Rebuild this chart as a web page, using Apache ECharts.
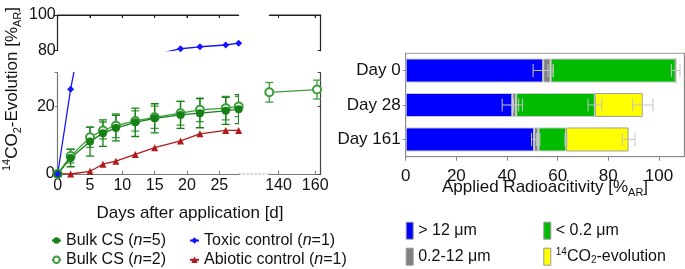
<!DOCTYPE html>
<html><head><meta charset="utf-8">
<script src="https://cdn.jsdelivr.net/npm/echarts@6/dist/echarts.min.js"></script>
<style>html,body{margin:0;padding:0;background:#fff}#c{width:685px;height:269px}</style>
</head><body><div id="c"></div>
<script>
// ---- Left panel data ----
const days = [0, 2, 5, 7, 9, 12, 15, 19, 22, 26, 28];
const bulk5 = [0, 4.75, 9.6, 12.1, 13.6, 15.3, 16.5, 17.5, 18.0, 18.7, 19.2];
const bulk5Err = [0, 2.6, 4.3, 3.9, 3.8, 4.2, 4.3, 4.0, 4.3, 4.0, 4.3];
const bulk2 = [0, 5.3, 10.9, 12.9, 14.3, 15.7, 16.8, 18.0, 19.0, 19.5, 20.0];
const bulk2Err = [0, 2.0, 3.0, 2.5, 3.5, 3.0, 3.3, 3.5, 3.5, 3.5, 3.0];
const lateDays = [135, 161];
const bulk2Late = [24.2, 25.0];
const bulk2LateErr = [2.9, 2.8];
const toxic = [0, 25.1, 55, 65, 71, 75.5, 77.8, 81.1, 82.2, 83.2, 84.2];
const abiotic = [0, 0, 0.8, 2.9, 3.8, 5.8, 7.8, 9.8, 11.9, 12.9, 12.9];
const xTicksLeft = [0, 5, 10, 15, 20, 25];
const xTicksRight = [140, 160];
const yTicksLower = [0, 20];
const yTicksLowerAll = [0, 20, 30];
const yTicksUpper = [80, 100];

// ---- Right panel data ----
const cats = ['Day 0', 'Day 28', 'Day 161'];
const gt12 = [54.3, 42.1, 50.7];
const mid = [2.9, 1.5, 1.7];
const lt02 = [49.4, 31.1, 10.9];
const co2 = [0, 18.9, 24.7];
const gt12Err = [4, 4, 1];
const midErr = [1, 1, 0.6];
const lt02Err = [1.7, 2.7, 0.4];
const co2Err = [0, 4, 2.5];
const xTicksBar = [0, 20, 40, 60, 80, 100];

const FONT = 'Liberation Sans, Arial, Helvetica, sans-serif';
const GREEN5 = '#168016';
const GREEN2 = '#3a9e3a';
const BLUE = '#1515ff';
const RED = '#b01a1a';
const DARK = '#222';
const GRAY = '#777';

function pairs(xs, ys) { return xs.map((x, i) => [x, ys[i]]); }
function vErrData(xs, ys, es) { return xs.map((x, i) => [x, ys[i] - es[i], ys[i] + es[i]]).filter((d, i) => es[i] > 0); }

function vErrRender(color) {
  return function (params, api) {
    const x = api.value(0), lo = api.value(1), hi = api.value(2);
    const a = api.coord([x, lo]), b = api.coord([x, hi]);
    const w = 4;
    const st = { stroke: color, lineWidth: 1.3 };
    return { type: 'group', children: [
      { type: 'line', shape: { x1: a[0], y1: a[1], x2: b[0], y2: b[1] }, style: st },
      { type: 'line', shape: { x1: a[0] - w, y1: a[1], x2: a[0] + w, y2: a[1] }, style: st },
      { type: 'line', shape: { x1: b[0] - w, y1: b[1], x2: b[0] + w, y2: b[1] }, style: st }
    ]};
  };
}

const hErr = [];
cats.forEach((c, i) => {
  const s1 = gt12[i], s2 = s1 + mid[i], s3 = s2 + lt02[i], s4 = s3 + co2[i];
  [[s1, gt12Err[i]], [s2, midErr[i]], [s3, lt02Err[i]], [s4, co2Err[i]]].forEach(([c0, e]) => {
    if (e > 0) hErr.push([c0, i, e]);
  });
});
function hErrRender(params, api) {
  const c0 = api.value(0), ci = api.value(1), e = api.value(2);
  const a = api.coord([c0 - e, ci]), b = api.coord([c0 + e, ci]);
  const h = 6.5;
  const st = { stroke: '#c4c4c4', lineWidth: 1 };
  return { type: 'group', children: [
    { type: 'line', shape: { x1: a[0], y1: a[1], x2: b[0], y2: b[1] }, style: st },
    { type: 'line', shape: { x1: a[0], y1: a[1] - h, x2: a[0], y2: a[1] + h }, style: st },
    { type: 'line', shape: { x1: b[0], y1: b[1] - h, x2: b[0], y2: b[1] + h }, style: st }
  ]};
}

const richT = {
  sup: { fontSize: 11, fontFamily: FONT, verticalAlign: 'top', lineHeight: 22, fill: '#111' },
  sub: { fontSize: 11, fontFamily: FONT, verticalAlign: 'bottom', lineHeight: 22, fill: '#111' }
};
const richLegend = {
  sup: { fontSize: 10, fontFamily: FONT, verticalAlign: 'top', lineHeight: 18, color: '#111' },
  sub: { fontSize: 10, fontFamily: FONT, verticalAlign: 'bottom', lineHeight: 18, color: '#111' },
  it: { fontSize: 16, fontFamily: FONT, fontStyle: 'italic', color: '#111' }
};

const L0 = 57.7, LW = 181, R0 = 269.3, RW = 51.4;
const UT = 15, UH = 35.7, LT = 72.7, LH = 101.3;

const legBase = { orient: 'vertical', padding: 0, height: 60, width: 200, selectedMode: false };

const option = {
  animation: false,
  textStyle: { fontFamily: FONT },
  grid: [
    { left: L0, top: UT, width: LW, height: UH },
    { left: R0, top: UT, width: RW, height: UH },
    { left: L0, top: LT, width: LW, height: LH },
    { left: R0, top: LT, width: RW, height: LH },
    { left: 405.7, top: 53.3, width: 278.6, height: 103.4, show: true, borderColor: '#999', borderWidth: 1 }
  ],
  xAxis: [
    { gridIndex: 0, type: 'value', min: 0, max: 28, position: 'top', splitLine: { show: false },
      axisLine: { show: true, onZero: false, lineStyle: { color: DARK, width: 1.2 } },
      axisTick: { show: true, inside: true, length: 3, customValues: xTicksLeft, lineStyle: { color: DARK } },
      axisLabel: { show: false } },
    { gridIndex: 1, type: 'value', min: 135, max: 163, position: 'top', splitLine: { show: false },
      axisLine: { show: true, onZero: false, lineStyle: { color: DARK, width: 1.2 } },
      axisTick: { show: true, inside: true, length: 3, customValues: xTicksRight, lineStyle: { color: DARK } },
      axisLabel: { show: false } },
    { gridIndex: 2, type: 'value', min: 0, max: 28, position: 'bottom', splitLine: { show: false },
      axisLine: { show: true, onZero: false, lineStyle: { color: GRAY, width: 1.2 } },
      axisTick: { show: true, inside: true, length: 3, customValues: xTicksLeft, lineStyle: { color: GRAY } },
      axisLabel: { show: true, customValues: xTicksLeft, fontSize: 16, color: '#111', margin: 4, fontFamily: FONT } },
    { gridIndex: 3, type: 'value', min: 135, max: 163, position: 'bottom', splitLine: { show: false },
      axisLine: { show: true, onZero: false, lineStyle: { color: GRAY, width: 1.2 } },
      axisTick: { show: true, inside: true, length: 3, customValues: xTicksRight, lineStyle: { color: GRAY } },
      axisLabel: { show: true, customValues: xTicksRight, fontSize: 16, color: '#111', margin: 4, fontFamily: FONT } },
    { gridIndex: 4, type: 'value', min: 0, max: 110, splitLine: { show: false },
      axisLine: { show: true, onZero: false, lineStyle: { color: '#888', width: 1 } },
      axisTick: { show: true, inside: false, length: 4, customValues: xTicksBar, lineStyle: { color: '#888' } },
      axisLabel: { show: true, customValues: xTicksBar, fontSize: 17, color: '#111', margin: 11, fontFamily: FONT } }
  ],
  yAxis: [
    { gridIndex: 0, type: 'value', min: 80, max: 100, position: 'left', splitLine: { show: false },
      axisLine: { show: true, onZero: false, lineStyle: { color: DARK, width: 1.2 } },
      axisTick: { show: true, inside: false, length: 4, customValues: yTicksUpper, lineStyle: { color: DARK } },
      axisLabel: { show: true, customValues: yTicksUpper, fontSize: 16, color: '#111', margin: 2, fontFamily: FONT } },
    { gridIndex: 1, type: 'value', min: 80, max: 100, position: 'right', splitLine: { show: false },
      axisLine: { show: true, onZero: false, lineStyle: { color: DARK, width: 1.2 } },
      axisTick: { show: true, inside: true, length: 3, customValues: yTicksUpper, lineStyle: { color: DARK } },
      axisLabel: { show: false } },
    { gridIndex: 2, type: 'value', min: 0, max: 30, position: 'left', splitLine: { show: false },
      axisLine: { show: true, onZero: false, lineStyle: { color: GRAY, width: 1.2 } },
      axisTick: { show: true, inside: false, length: 3, customValues: yTicksLowerAll, lineStyle: { color: GRAY } },
      axisLabel: { show: true, customValues: yTicksLower, fontSize: 16, color: '#111', margin: 3, fontFamily: FONT } },
    { gridIndex: 3, type: 'value', min: 0, max: 30, position: 'right', splitLine: { show: false },
      axisLine: { show: true, onZero: false, lineStyle: { color: '#444', width: 1.2 } },
      axisTick: { show: true, inside: true, length: 3, customValues: yTicksLowerAll, lineStyle: { color: '#444' } },
      axisLabel: { show: false } },
    { gridIndex: 4, type: 'category', data: cats, inverse: true, position: 'left',
      axisLine: { show: true, lineStyle: { color: '#888' } },
      axisTick: { show: true, alignWithLabel: true, length: 3, lineStyle: { color: '#888' } },
      axisLabel: { fontSize: 17, color: '#111', margin: 5, fontFamily: FONT } },
    { gridIndex: 4, type: 'category', data: cats, inverse: true, position: 'right',
      axisLine: { show: true, lineStyle: { color: '#888' } },
      axisTick: { show: true, alignWithLabel: true, length: 3, lineStyle: { color: '#888' } },
      axisLabel: { show: false } }
  ],
  legend: [
    Object.assign({}, legBase, { left: 51, top: 231.5, itemWidth: 9, itemHeight: 8, itemGap: 1.3,
      data: ['Bulk CS (n=5)', 'Bulk CS (n=2)'],
      formatter: n => n.replace('(n=', '({it|n}='),
      textStyle: { fontSize: 16, lineHeight: 18, color: '#111', fontFamily: FONT, rich: richLegend } }),
    Object.assign({}, legBase, { left: 189, top: 231.5, itemWidth: 9, itemHeight: 8, itemGap: 1.3,
      data: ['Toxic control (n=1)', 'Abiotic control (n=1)'],
      formatter: n => n.replace('(n=', '({it|n}='),
      textStyle: { fontSize: 16, lineHeight: 18, color: '#111', fontFamily: FONT, rich: richLegend } }),
    Object.assign({}, legBase, { left: 405.7, top: 221.7, itemWidth: 7, itemHeight: 17, itemGap: 8, icon: 'rect',
      data: ['> 12 μm', '0.2-12 μm'],
      itemStyle: { borderColor: '#999', borderWidth: 1 },
      textStyle: { fontSize: 16, lineHeight: 17, color: '#111', fontFamily: FONT } }),
    Object.assign({}, legBase, { left: 543.3, top: 221.7, itemWidth: 7, itemHeight: 17, itemGap: 8, icon: 'rect',
      data: ['< 0.2 μm', '14CO2-evolution'],
      itemStyle: { borderColor: '#999', borderWidth: 1 },
      formatter: n => n === '14CO2-evolution' ? '{sup|14}CO{sub|2}-evolution' : n,
      textStyle: { fontSize: 16, lineHeight: 17, color: '#111', fontFamily: FONT, rich: richLegend } })
  ],
  graphic: [
    { type: 'line', shape: { x1: L0 + LW, y1: LT + LH, x2: R0, y2: LT + LH },
      style: { stroke: '#aaa', lineWidth: 1.2, lineDash: [2, 2] } },
    { type: 'text', x: 12, y: 89, rotation: Math.PI / 2,
      style: { text: '{sup|14}CO{sub|2}-Evolution [%{sub|AR}]', fontSize: 17, fontFamily: FONT, fill: '#111',
        align: 'center', verticalAlign: 'middle', lineHeight: 22, rich: richT } },
    { type: 'text', x: 190, y: 213,
      style: { text: 'Days after application [d]', fontSize: 17, fontFamily: FONT, fill: '#111',
        align: 'center', verticalAlign: 'middle' } },
    { type: 'text', x: 545, y: 187,
      style: { text: 'Applied Radioacitivity [%{sub|AR}]', fontSize: 17, fontFamily: FONT, fill: '#111',
        align: 'center', verticalAlign: 'middle', lineHeight: 22, rich: richT } }
  ],
  series: [
    { name: 'Toxic control (n=1)', type: 'line', xAxisIndex: 0, yAxisIndex: 0, data: pairs(days, toxic), clip: true,
      symbol: 'diamond', symbolSize: 7, color: BLUE, lineStyle: { width: 1.3 } },
    { type: 'custom', xAxisIndex: 2, yAxisIndex: 2, data: vErrData(days, bulk2, bulk2Err), renderItem: vErrRender(GREEN2), encode: { x: 0, y: [1, 2] }, clip: true, silent: true },
    { type: 'custom', xAxisIndex: 2, yAxisIndex: 2, data: vErrData(days, bulk5, bulk5Err), renderItem: vErrRender(GREEN5), encode: { x: 0, y: [1, 2] }, clip: true, silent: true },
    { name: 'Abiotic control (n=1)', type: 'line', xAxisIndex: 2, yAxisIndex: 2, data: pairs(days, abiotic), clip: true,
      symbol: 'triangle', symbolSize: 7, color: RED, lineStyle: { width: 1.3 } },
    { name: 'Bulk CS (n=2)', type: 'line', xAxisIndex: 2, yAxisIndex: 2, data: pairs(days, bulk2), clip: true,
      symbol: 'emptyCircle', symbolSize: 8, color: GREEN2, itemStyle: { borderWidth: 1.2 }, lineStyle: { width: 1.3 } },
    { name: 'Bulk CS (n=5)', type: 'line', xAxisIndex: 2, yAxisIndex: 2, data: pairs(days, bulk5), clip: true,
      symbol: 'circle', symbolSize: 8, color: GREEN5, lineStyle: { width: 1.3 } },
    { name: 'Toxic control (n=1)', type: 'line', xAxisIndex: 2, yAxisIndex: 2, data: pairs(days, toxic), clip: true,
      symbol: 'diamond', symbolSize: 7, color: BLUE, lineStyle: { width: 1.3 } },
    { type: 'custom', xAxisIndex: 3, yAxisIndex: 3, data: vErrData(lateDays, bulk2Late, bulk2LateErr), renderItem: vErrRender(GREEN2), encode: { x: 0, y: [1, 2] }, clip: false, silent: true },
    { name: 'Bulk CS (n=2)', type: 'line', xAxisIndex: 3, yAxisIndex: 3, data: pairs(lateDays, bulk2Late), clip: false,
      symbol: 'emptyCircle', symbolSize: 8, color: GREEN2, itemStyle: { borderWidth: 1.2 }, lineStyle: { width: 1.3 } },
    { name: '> 12 μm', type: 'bar', stack: 's', xAxisIndex: 4, yAxisIndex: 4, data: gt12, barWidth: 24,
      itemStyle: { color: '#0000ff', borderColor: '#c8c8c8', borderWidth: 1 } },
    { name: '0.2-12 μm', type: 'bar', stack: 's', xAxisIndex: 4, yAxisIndex: 4, data: mid, barWidth: 24,
      itemStyle: { color: '#808080', borderColor: '#c8c8c8', borderWidth: 1 } },
    { name: '< 0.2 μm', type: 'bar', stack: 's', xAxisIndex: 4, yAxisIndex: 4, data: lt02, barWidth: 24,
      itemStyle: { color: '#00bb00', borderColor: '#c8c8c8', borderWidth: 1 } },
    { name: '14CO2-evolution', type: 'bar', stack: 's', xAxisIndex: 4, yAxisIndex: 4, data: co2, barWidth: 24,
      itemStyle: { color: '#ffff00', borderColor: '#a0a0a0', borderWidth: 1 } },
    { type: 'custom', xAxisIndex: 4, yAxisIndex: 4, data: hErr, renderItem: hErrRender, encode: { x: 0, y: 1 }, silent: true, z: 5 }
  ]
};

const chart = echarts.init(document.getElementById('c'), null, { renderer: 'canvas' });
chart.setOption(option);

// Top frame lines of the upper (broken-axis) panels, positioned through the library's own scales
const extra = [];
function topFrame(gi, xmin, xmax, ymax, ticks) {
  const a = chart.convertToPixel({ gridIndex: gi }, [xmin, ymax]);
  const b = chart.convertToPixel({ gridIndex: gi }, [xmax, ymax]);
  const st = { stroke: DARK, lineWidth: 1.2 };
  extra.push({ type: 'line', z: 100, silent: true, shape: { x1: a[0], y1: a[1], x2: b[0], y2: b[1] }, style: st });
  ticks.forEach(t => {
    const p = chart.convertToPixel({ gridIndex: gi }, [t, ymax]);
    extra.push({ type: 'line', z: 100, silent: true, shape: { x1: p[0], y1: p[1], x2: p[0], y2: p[1] + 3 }, style: { stroke: DARK, lineWidth: 1 } });
  });
}
topFrame(0, 0, 28, 100, xTicksLeft);
topFrame(1, 135, 163, 100, xTicksRight);
chart.setOption({ graphic: option.graphic.concat(extra) });
</script>
</body></html>
